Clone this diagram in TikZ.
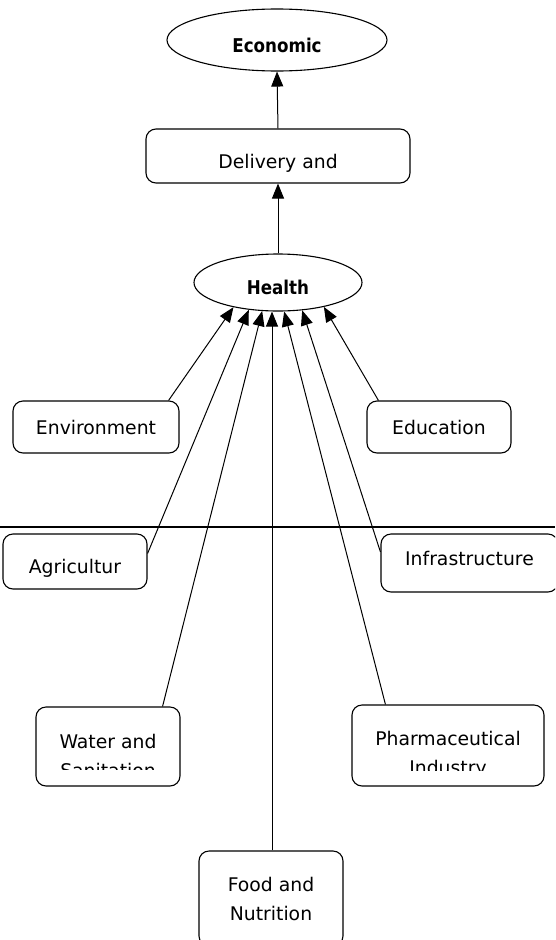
\documentclass[tikz,border=0pt]{standalone}
\usepackage{fontspec}
\setmainfont{DejaVu Sans}
\newfontfamily\boldlabel[FakeStretch=0.88]{DejaVu Sans Bold}
\usetikzlibrary{shapes.geometric,arrows.meta}

\tikzset{
  box/.style={draw,rounded corners=10pt,line width=1.1pt,inner sep=0pt,
    font=\fontsize{18.8}{29}\selectfont,align=center},
  oval/.style={draw,ellipse,line width=1.1pt,inner sep=0pt,
    font=\fontsize{19}{22}\boldlabel},
  txt/.style={inner sep=0pt,font=\fontsize{18.8}{29}\selectfont,align=center},
  tdown/.style={text depth=0pt,text height=#1},
  tup/.style={text height=14pt,text depth=#1},
  arr/.style={line width=1pt,-{Triangle[length=15pt,width=12pt]}},
}

\begin{document}
\begin{tikzpicture}[x=1pt,y=-1pt]
	\clip (0,0) rectangle (555,940);

	\node[oval,tdown=24pt,minimum width=220,minimum height=62] (econ) at (277,40) {Economic};
	\node[box,tdown=25.8pt,minimum width=264,minimum height=54] (deliv) at (278,156) {Delivery and};
	\node[oval,tdown=23pt,minimum width=168,minimum height=57] (hea) at (278,282.5) {Health};

	\node[box,minimum width=166,minimum height=52] (env) at (96,427) {Environment};
	\node[box,minimum width=144,minimum height=52] (edu) at (439,427) {Education};
	\node[box,tdown=24.8pt,minimum width=144,minimum height=55] (agr) at (75,561.5) {Agricultur};
	\node[box,tup=8.2pt,minimum width=177,minimum height=58] (infra) at (469.5,563) {Infrastructure};
	\node[box,minimum width=144,minimum height=79] (wat) at (108,746.5) {};
	\node[box,minimum width=192,minimum height=81] (pha) at (448,745.5) {};
	\node[box,minimum width=144,minimum height=95] (food) at (271,898.5) {Food and\\Nutrition};

	% text cut off at the bottom of the boxes
	\begin{scope}
		\clip (wat.north west) rectangle ([yshift=17pt]wat.south east);
		\node[txt] (wat-t) at (108,756) {Water and\\Sanitation};
	\end{scope}
	\begin{scope}
		\clip (pha.north west) rectangle ([yshift=16pt]pha.south east);
		\node[txt] (pha-t) at (448,755) {Pharmaceutical\\Industry};
	\end{scope}

	\draw[line width=2pt] (0,526.5) -- (555,526.5);

	\draw[arr] (deliv.north) -- (econ.south);
	\draw[arr] (hea.north) -- (deliv.south);

	\draw[arr] ([xshift=-11pt]env.north east) -- (hea.209);
	\draw[arr] ([yshift=8pt]agr.east) -- (hea.223);
	\draw[arr] ([xshift=-18pt]wat.north east) -- (hea.241);
	\draw[arr] ([xshift=1pt]food.north) -- ([xshift=1pt]food.north |- hea.south);
	\draw[arr] ([xshift=34pt]pha.north west) -- (hea.282);
	\draw[arr] ([yshift=11pt]infra.west) -- (hea.311);
	\draw[arr] ([xshift=12pt]edu.north west) -- (hea.332);
\end{tikzpicture}
\end{document}
